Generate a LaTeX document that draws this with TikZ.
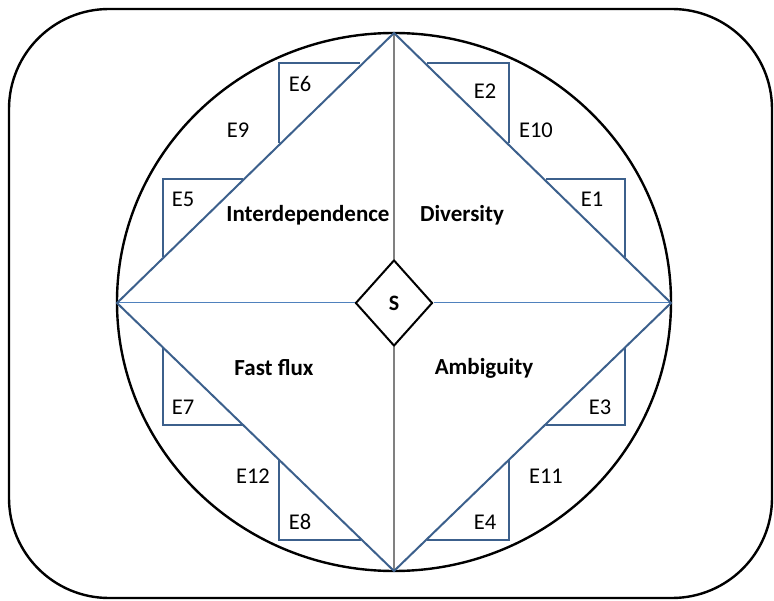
\documentclass[tikz,border=0pt]{standalone}
\usepackage{fontspec}
\setmainfont{Carlito}
\usepackage{tikz}
\usetikzlibrary{shapes.geometric}

\definecolor{edgeblue}{RGB}{60,96,140}
\definecolor{axisblue}{RGB}{79,129,189}

\begin{document}
\begin{tikzpicture}[
  x=1pt, y=-1pt,
  frame/.style={draw=black, line width=2.4pt},
  quad/.style={draw=edgeblue, line width=2pt, line join=miter},
  tri/.style={draw=edgeblue, line width=2pt, line join=miter},
  axis/.style={draw=axisblue, line width=1pt},
  vaxis/.style={draw=black!50, line width=1.5pt},
  lbl/.style={font=\fontsize{22.5}{24}\selectfont, inner sep=0pt},
  dim/.style={font=\fontsize{23}{25}\selectfont\bfseries, inner sep=0pt},
  centre/.style={diamond, draw=black, line width=2pt, fill=white, minimum width=77pt, minimum height=86pt, inner sep=0pt, font=\fontsize{22}{24}\selectfont\bfseries}
]
\useasboundingbox (0,0) rectangle (774,601);
\draw[frame, rounded corners=100pt] (9,9) rectangle (772,598);
\draw[frame] (394,302) ellipse [x radius=277, y radius=269];

% diamond corners
\coordinate (top) at (394,33);
\coordinate (rgt) at (671,303);
\coordinate (bot) at (394,571);
\coordinate (lft) at (117,303);

\node[centre] (s) at (394,303) {S};

\draw[vaxis] (top) -- (s.north);
\draw[vaxis] (s.south) -- (bot);
\draw[axis] (lft) -- (s.west);
\draw[axis] (s.east) -- (rgt);
\draw[quad] (top) -- (rgt) -- (bot) -- (lft) -- cycle;

% small triangles
\draw[tri] (243,179) -- (163,179) -- (163,257);
\draw[tri] (360,63) -- (279,63) -- (279,143);
\draw[tri] (427,63) -- (509,63) -- (509,143);
\draw[tri] (546,179) -- (625,179) -- (625,257);
\draw[tri] (163,348) -- (163,425) -- (243,425);
\draw[tri] (279,459) -- (279,540) -- (361,540);
\draw[tri] (625,348) -- (625,425) -- (546,425);
\draw[tri] (509,459) -- (509,540) -- (427,540);

\node[dim] (inter) at (308,215) {Interdependence};
\node[dim] (div) at (462,215) {Diversity};
\node[dim] (flux) at (274,368) {Fast flux};
\node[dim] (amb) at (484,368) {Ambiguity};

\node[lbl] (e1) at (592,199) {E1};
\node[lbl] (e2) at (485,91) {E2};
\node[lbl] (e3) at (600,407) {E3};
\node[lbl] (e4) at (485,522) {E4};
\node[lbl] (e5) at (183,199) {E5};
\node[lbl] (e6) at (300,84) {E6};
\node[lbl] (e7) at (183,407) {E7};
\node[lbl] (e8) at (300,522) {E8};
\node[lbl] (e9) at (238,130) {E9};
\node[lbl] (e10) at (536,130) {E10};
\node[lbl] (e11) at (546,476) {E11};
\node[lbl] (e12) at (253,476) {E12};
\end{tikzpicture}
\end{document}
